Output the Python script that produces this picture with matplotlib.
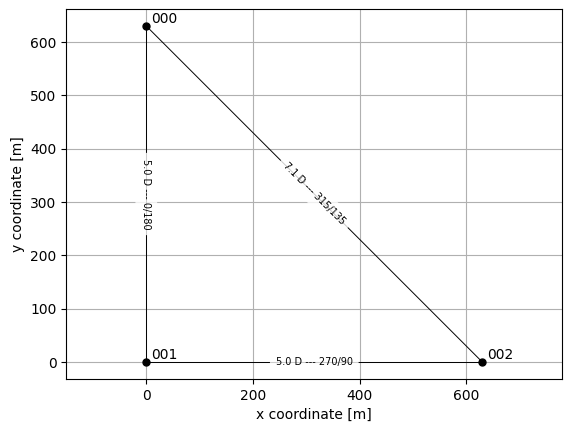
import matplotlib
matplotlib.use("Agg")
import matplotlib.pyplot as plt

# Turbine positions [m]
names = ["000", "001", "002"]
x_coords = [0.0, 0.0, 630.0]
y_coords = [630.0, 0.0, 0.0]

# Wake links: from, to, label, label angle
links = [
    (0, 1, "5.0 D --- 0/180", -90),
    (1, 2, "5.0 D --- 270/90", 0),
    (0, 2, "7.1 D --- 315/135", -45),
]

fig, ax = plt.subplots(figsize=(5.71, 4.32), dpi=100)

for i, j, label, angle in links:
    xs = [x_coords[i], x_coords[j]]
    ys = [y_coords[i], y_coords[j]]
    ax.plot(xs, ys, color="k", linewidth=0.7, zorder=2)
    # see-through white box fades the lines behind the label
    ax.text(
        sum(xs) / 2, sum(ys) / 2, label, fontsize=7, rotation=angle,
        rotation_mode="anchor", ha="center", va="center",
        bbox=dict(boxstyle="round,pad=0.6", fc="white", ec="none", alpha=0.8), zorder=3,
    )

ax.plot(x_coords, y_coords, "o", color="k", markersize=5, zorder=4)
for name, x, y in zip(names, x_coords, y_coords):
    ax.annotate(name, (x, y), xytext=(3.5, 2.3), textcoords="offset points", fontsize=10)

ax.axis("equal")
ax.grid(True)
ax.set_axisbelow(True)
ax.set_xlabel("x coordinate [m]")
ax.set_ylabel("y coordinate [m]")

fig.subplots_adjust(left=0.1163, right=0.9845, top=0.9787, bottom=0.1231)
fig.savefig("out.png", dpi=100)
